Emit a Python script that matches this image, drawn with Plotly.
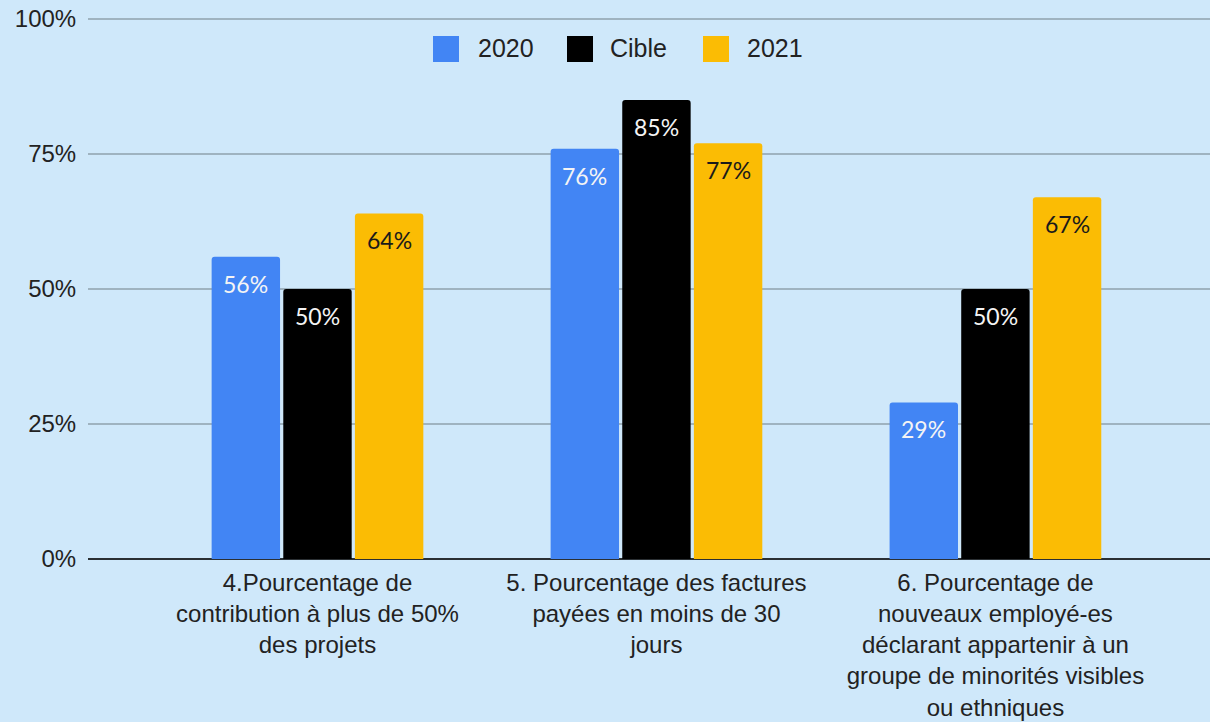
import plotly.graph_objects as go

categories = [
    "4.Pourcentage de<br>contribution à plus de 50%<br>des projets",
    "5. Pourcentage des factures<br>payées en moins de 30<br>jours",
    "6. Pourcentage de<br>nouveaux employé-es<br>déclarant appartenir à un<br>groupe de minorités visibles<br>ou ethniques",
]
series_names = ["2020", "Cible", "2021"]
values_2020 = [56, 76, 29]
values_cible = [50, 85, 50]
values_2021 = [64, 77, 67]
tick_vals = [0, 25, 50, 75, 100]
tick_text = ["0%", "25%", "50%", "75%", "100%"]

colors = ["#4285F4", "#000000", "#FBBC04"]
label_colors = ["#f4f4f4", "#f4f4f4", "#1a1a1a"]
all_values = [values_2020, values_cible, values_2021]

W, H = 1210, 722
L, R, T, B = 88, 0, 18, 163
plot_w = W - L - R
plot_h = H - T - B
y_top = 100.2

fig = go.Figure()
for name, vals, col in zip(series_names, all_values, colors):
    fig.add_trace(go.Bar(
        x=categories, y=vals, name=name, marker=dict(color=col, cornerradius=3, line=dict(width=0)),
        showlegend=False, hoverinfo="skip",
    ))

# data labels
unit_px = plot_w / 3.31
slot = unit_px * (1 - 0.366) / 3
for i, (vals, lc) in enumerate(zip(all_values, label_colors)):
    for c, v in zip(categories, vals):
        fig.add_annotation(
            x=c, y=v, xref="x", yref="y", text=f"{v}%", showarrow=False,
            xshift=(i - 1) * slot, yshift=-27, yanchor="middle",
            font=dict(family="Lato, Roboto, sans-serif", size=23, color=lc),
        )

# manual legend
def px_to_paper_x(px):
    return (px - L) / plot_w

def px_to_paper_y(py):
    return (H - B - py) / plot_h

legend_sq = [433, 567, 703]
legend_txt = [476, 608, 745]
for name, col, sx, tx in zip(series_names, colors, legend_sq, legend_txt):
    fig.add_shape(
        type="rect", xref="paper", yref="paper",
        x0=px_to_paper_x(sx), x1=px_to_paper_x(sx + 26),
        y0=px_to_paper_y(62), y1=px_to_paper_y(36),
        fillcolor=col, line=dict(width=0), layer="above",
    )
    fig.add_annotation(
        x=px_to_paper_x(tx), y=px_to_paper_y(48), xref="paper", yref="paper",
        text=name, showarrow=False, xanchor="left", yanchor="middle",
        font=dict(family="Liberation Sans, Arial, sans-serif", size=25, color="#222222"),
    )

bg = "#cfe8fa"
fig.update_layout(
    width=W, height=H,
    margin=dict(l=L, r=R, t=T, b=B, pad=0, autoexpand=False),
    paper_bgcolor=bg, plot_bgcolor=bg,
    barmode="group", bargap=0.366, bargroupgap=0.045,
    font=dict(family="Liberation Sans, Arial, sans-serif", size=24, color="#222222"),
    showlegend=False,
)
fig.update_xaxes(
    range=[-0.677, 2.633], showgrid=False, showline=False, zeroline=False,
    ticks="outside", ticklen=2, tickcolor="rgba(0,0,0,0)", automargin=False,
    tickfont=dict(size=24, color="#222222"),
)
fig.update_yaxes(
    range=[0, y_top], tickvals=tick_vals, ticktext=tick_text,
    showgrid=True, gridcolor="#9fb3c0", gridwidth=2,
    zeroline=True, zerolinecolor="#2a2f33", zerolinewidth=2,
    showline=False, ticks="outside", ticklen=6, tickcolor="rgba(0,0,0,0)", automargin=False,
    tickfont=dict(size=24, color="#222222"),
)

fig.write_html(
    "out.html",
    config={"displayModeBar": False},
    post_script="document.body.style.margin='0';document.body.style.overflow='hidden';",
)
